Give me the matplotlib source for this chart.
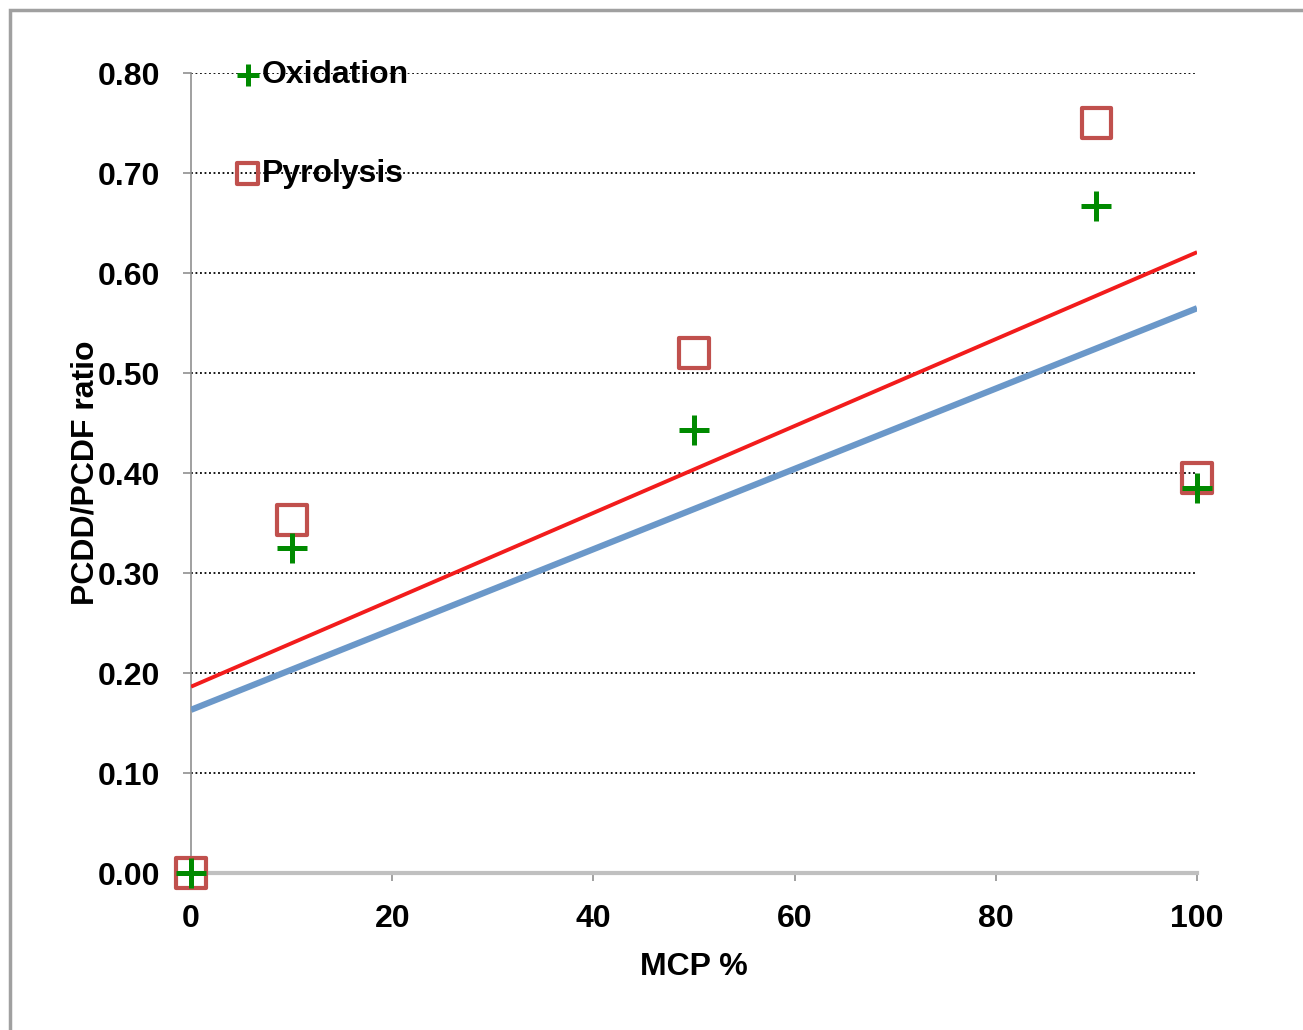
import numpy as np
import matplotlib.pyplot as plt
from matplotlib.patches import Rectangle

plt.rcParams['font.family'] = ['Liberation Sans', 'DejaVu Sans']
plt.rcParams['font.weight'] = 'bold'

mcp = [0, 10, 50, 90, 100]
oxidation = [0.0, 0.325, 0.443, 0.667, 0.385]
pyrolysis = [0.0, 0.353, 0.520, 0.750, 0.395]

x_ticks = [0, 20, 40, 60, 80, 100]
y_ticks = [0.0, 0.1, 0.2, 0.3, 0.4, 0.5, 0.6, 0.7, 0.8]

fig = plt.figure(figsize=(13.03, 10.30), dpi=100)
ax = fig.add_axes([0.1466, 0.1524, 0.7721, 0.7767])

# outer frame around the whole chart
fig.patches.append(Rectangle((0.008, -0.01), 1.0, 1.0, transform=fig.transFigure,
                             fill=False, edgecolor='#a0a0a0', linewidth=2.5))

# linear trend lines
xs = np.array([0, 100])
p_fit = np.polyfit(mcp, pyrolysis, 1)
o_fit = np.polyfit(mcp, oxidation, 1)
ax.plot(xs, np.polyval(o_fit, xs), color='#6b98c9', linewidth=4.5, solid_capstyle='butt', zorder=3)
ax.plot(xs, np.polyval(p_fit, xs), color='#f21c1c', linewidth=2.8, solid_capstyle='butt', zorder=3)

ax.scatter(mcp, pyrolysis, marker='s', s=460, facecolor='none', edgecolor='#c0504d',
           linewidth=3, clip_on=False, zorder=4, label='Pyrolysis')
ax.scatter(mcp, oxidation, marker='+', s=480, color='#008a00', linewidth=3.6,
           clip_on=False, zorder=5, label='Oxidation')

handles, labels = ax.get_legend_handles_labels()
leg = ax.legend(handles[::-1], labels[::-1], loc='upper left', bbox_to_anchor=(0.034, 1.032),
                frameon=False, fontsize=23, markerscale=0.7, handlelength=0.6,
                handletextpad=0.15, labelspacing=2.15, borderaxespad=0)

ax.set_xlim(0, 100)
ax.set_ylim(0, 0.8)
ax.set_xticks(x_ticks)
ax.set_yticks(y_ticks)
ax.set_yticklabels([f'{v:.2f}' for v in y_ticks])
ax.tick_params(axis='both', labelsize=23, colors='#909090', labelcolor='black', length=6, width=1.2)
ax.tick_params(axis='y', pad=16)
ax.tick_params(axis='x', pad=16)

for v in y_ticks[1:]:
    ax.axhline(v, color='black', linestyle=(0, (1, 1.5)), linewidth=1.3, zorder=1)

for side in ['top', 'right']:
    ax.spines[side].set_visible(False)
ax.spines['left'].set_color('#909090')
ax.spines['left'].set_linewidth(1.2)
ax.spines['bottom'].set_color('#c0c0c0')
ax.spines['bottom'].set_linewidth(3)

ax.set_xlabel('MCP %', fontsize=23, fontweight='bold', labelpad=13)
ax.set_ylabel('PCDD/PCDF ratio', fontsize=23, fontweight='bold', va='center')
ax.yaxis.set_label_coords(-0.105, 0.5)

fig.savefig('out.png', dpi=100)
